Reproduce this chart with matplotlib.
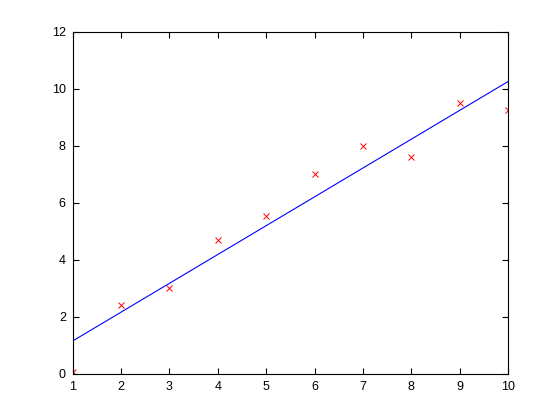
import numpy as np
import matplotlib
matplotlib.use("Agg")
import matplotlib.pyplot as plt

x = [1, 2, 3, 4, 5, 6, 7, 8, 9, 10]
y = [0.05, 2.4, 3.0, 4.7, 5.55, 7.0, 8.0, 7.6, 9.5, 9.25]
xticks = [1, 2, 3, 4, 5, 6, 7, 8, 9, 10]
yticks = [0, 2, 4, 6, 8, 10, 12]

plt.rcParams['font.family'] = ['Liberation Sans', 'DejaVu Sans']
fig = plt.figure(figsize=(5.6, 4.2), dpi=100)
ax = fig.add_axes([0.13, 0.11, 0.777, 0.814])

slope, intercept = np.polyfit(x, y, 1)
xs = np.array([x[0], x[-1]])
ax.plot(xs, slope * xs + intercept, color='#0000ff', linewidth=0.8)
ax.plot(x, y, linestyle='none', marker='x', color='#ff0000', markersize=4.5, markeredgewidth=0.7)

ax.set_xlim(1, 10)
ax.set_ylim(0, 12)
ax.set_xticks(xticks)
ax.set_yticks(yticks)
ax.tick_params(direction='in', top=True, right=True, length=4, width=0.8, labelsize=9, pad=5)
for s in ax.spines.values():
    s.set_linewidth(0.8)

fig.savefig('out.png', dpi=100)
